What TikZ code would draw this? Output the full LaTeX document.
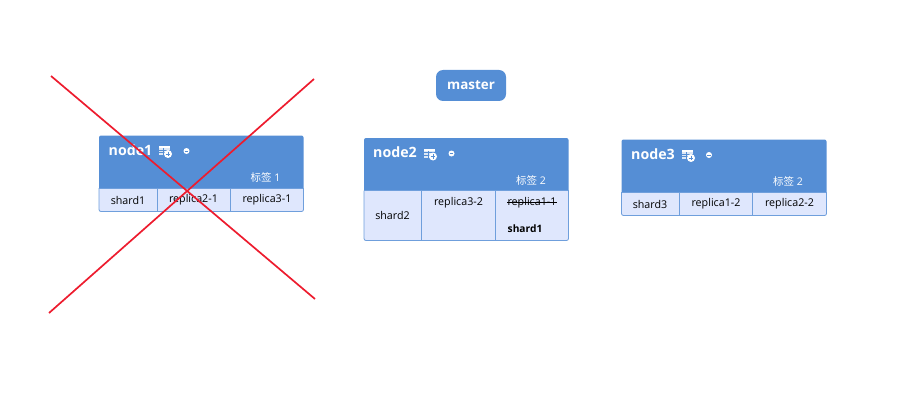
\documentclass[tikz,border=0pt]{standalone}
\usepackage{fontspec}
\setmainfont{Open Sans}
\newfontfamily\cjk{Noto Sans CJK SC}
\definecolor{hdr}{HTML}{558ED5}
\definecolor{cellbg}{HTML}{DFE7FD}
\definecolor{edge}{HTML}{6F9FDC}
\definecolor{xred}{HTML}{ED1C2E}
\tikzset{
  title/.style={text=white,font=\fontsize{14.2}{14}\selectfont\bfseries,inner sep=0pt},
  tag/.style={text=white,font=\fontsize{10.5}{10}\selectfont,inner sep=0pt},
  cell/.style={text=black,font=\fontsize{10.7}{10}\selectfont,inner sep=0pt},
  cellb/.style={text=black,font=\fontsize{10.2}{10}\selectfont\bfseries,inner sep=0pt},
  masterbox/.style={fill=hdr,rounded corners=7pt,inner sep=0pt,text=white,font=\fontsize{13.4}{13}\selectfont\bfseries},
  cross/.style={draw=xred,line width=1.7pt},
  strike/.style={draw=black,line width=.8pt},
}
% #1 x-left, #2 y-top, #3 y-header-bottom, #4 y-bottom, #5 col1, #6 col2, #7 x-right
\newcommand{\cardbody}[7]{%
  \fill[hdr,rounded corners=2pt] (#1,#2) rectangle (#7,#4);
  \path[draw=edge,line width=.8pt,rounded corners=2pt,fill=cellbg] (#1,#3) -- (#1,#4) -- (#7,#4) -- (#7,#3);
  \draw[edge,line width=.8pt] (#1,#3) -- (#7,#3) (#5,#3) -- (#5,#4) (#6,#3) -- (#6,#4);
}
% #1 x, #2 y centre of the add-table icon; #3 x of the small minus icon
\newcommand{\cardicons}[3]{%
  \fill[white,opacity=.8] (#1-6,#2-5) rectangle (#1+5,#2+4);
  \fill[white] (#1-6,#2-5) rectangle (#1+5,#2-3);
  \draw[hdr,line width=.5pt] (#1-6,#2-1) -- (#1+5,#2-1) (#1-6,#2+1.5) -- (#1+5,#2+1.5) (#1-2,#2-3) -- (#1-2,#2+4);
  \fill[white] (#1+3,#2+3) circle (4pt);
  \draw[hdr,line width=.7pt] (#1+.7,#2+3) -- (#1+5.3,#2+3) (#1+3,#2+.7) -- (#1+3,#2+5.3);
  \fill[white] (#3,#2) circle (3pt);
  \draw[hdr,line width=.6pt] (#3-1.7,#2) -- (#3+1.7,#2);
}
\begin{document}
\begin{tikzpicture}[x=1pt,y=-1pt]
\useasboundingbox (0,0) rectangle (917,409);

\node[masterbox,minimum width=70pt,minimum height=31pt] (master) at (471,85.5) {master};

% node1
\cardbody{99}{135.5}{188}{211.5}{157}{230}{303.5}
\cardicons{165}{151}{186.5}
\node[title,anchor=west] (n1title) at (108.5,150) {node1};
\node[tag,anchor=center] (n1tag) at (265.5,177.5) {{\cjk 标签} 1};
\node[cell] (n1a) at (128,200) {shard1};
\node[cell] (n1b) at (193.5,200) {replica2-1};
\node[cell] (n1c) at (267,200) {replica3-1};

% node2
\cardbody{364}{138}{190.5}{240.5}{421.5}{495}{568.5}
\cardicons{430}{153.5}{451.5}
\node[title,anchor=west] (n2title) at (373,152) {node2};
\node[tag,anchor=center] (n2tag) at (531,180) {{\cjk 标签} 2};
\node[cell] (n2a) at (392.5,215.5) {shard2};
\node[cell] (n2b) at (458.5,202.5) {replica3-2};
\node[cell] (n2c) at (532,202.5) {replica1-1};
\draw[strike] (n2c.west) -- (n2c.east);
\node[cellb] (n2d) at (525,229) {shard1};

% node3
\cardbody{621.5}{139.5}{192}{215.5}{679}{752.5}{826.5}
\cardicons{688}{155}{709}
\node[title,anchor=west] (n3title) at (631,154) {node3};
\node[tag,anchor=center] (n3tag) at (788,181) {{\cjk 标签} 2};
\node[cell] (n3a) at (650,204) {shard3};
\node[cell] (n3b) at (716,204) {replica1-2};
\node[cell] (n3c) at (789.5,204) {replica2-2};

% cross
\coordinate (xa) at (51,76);
\coordinate (xb) at (315,299);
\coordinate (xc) at (314,79);
\coordinate (xd) at (49,313);
\draw[cross] (xa) -- (xb);
\draw[cross] (xc) -- (xd);
\end{tikzpicture}
\end{document}
